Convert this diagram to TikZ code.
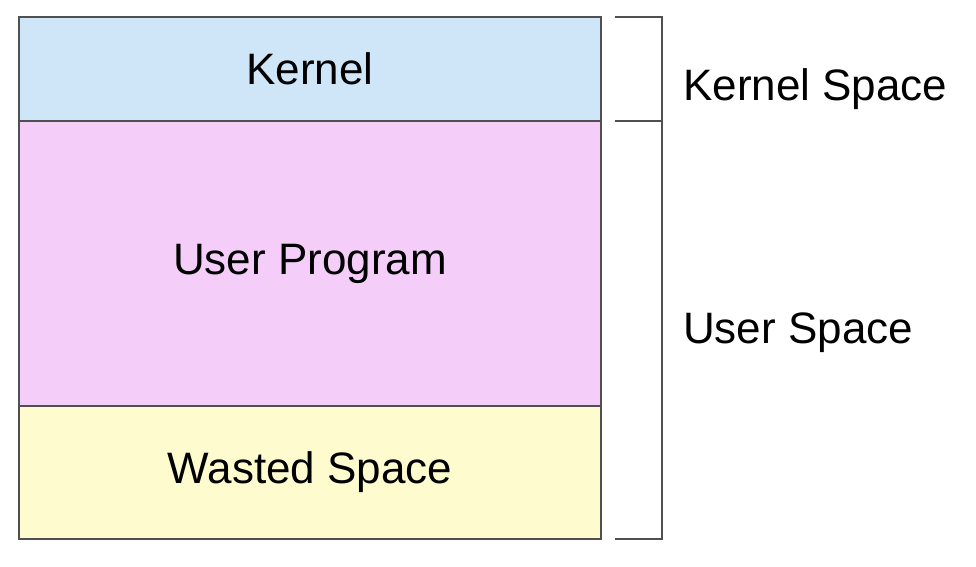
\documentclass[tikz,border=0pt]{standalone}
\usepackage{fontspec}
\setmainfont{Liberation Sans}
\usetikzlibrary{positioning}
\definecolor{kernelblue}{RGB}{207,229,248}
\definecolor{userpink}{RGB}{245,205,249}
\definecolor{wasteyellow}{RGB}{254,252,206}
\definecolor{edgegray}{RGB}{80,80,80}
\begin{document}
\begin{tikzpicture}[x=1pt, y=1pt]
    \tikzset{
        region/.style = {rectangle, draw=edgegray, line width=2pt, minimum width=582pt, outer sep=0pt, inner sep=0pt,
                         font=\fontsize{44}{52}\selectfont, text centered},
        brace/.style = {draw=edgegray, line width=2pt, line cap=rect},
        sidelabel/.style = {anchor=west, inner sep=0pt, font=\fontsize{44}{52}\selectfont},
    }
    \useasboundingbox (0,0) rectangle (976,-566);

    \node (kernel) [region, fill=kernelblue, minimum height=104pt, anchor=north west] at (19,-17) {Kernel};
    \node (user) [region, fill=userpink, minimum height=285pt, below=0pt of kernel] {User Program};
    \node (wasted) [region, fill=wasteyellow, minimum height=133pt, below=0pt of user] {Wasted Space};

    % brackets
    \coordinate (ktop) at ([xshift=15pt]kernel.north east);
    \coordinate (kbot) at ([xshift=15pt]kernel.south east);
    \coordinate (ubot) at ([xshift=15pt]wasted.south east);
    \draw [brace] (ktop) -- ++(46,0) |- (kbot);
    \draw [brace] (kbot) -- ++(46,0) |- (ubot);

    \node (kspace) [sidelabel] at (683,-89) {Kernel Space};
    \node (uspace) [sidelabel] at (683,-333) {User Space};
\end{tikzpicture}
\end{document}
